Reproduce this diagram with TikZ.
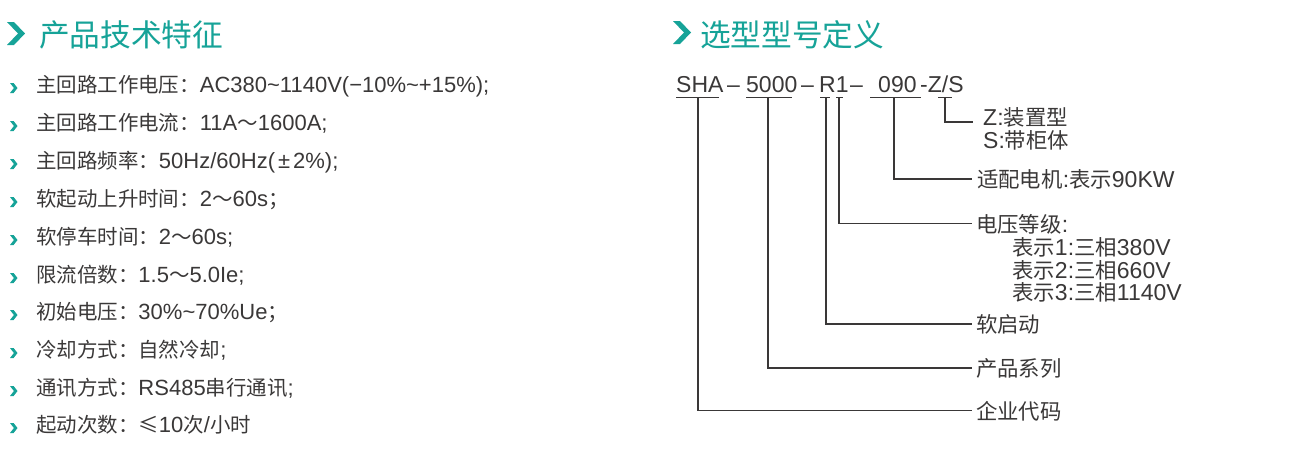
\documentclass[tikz,border=0pt]{standalone}
\usepackage{fontspec}
\setmainfont{Liberation Sans}
\newfontfamily\cjk[Scale=0.93]{Noto Sans CJK SC}
\definecolor{teal1}{RGB}{22,163,152}
\definecolor{txt}{RGB}{58,56,56}
\tikzset{
  hdr/.style={anchor=base west, inner sep=0pt, text=teal1, font=\cjk\fontsize{33}{37}\selectfont},
  item/.style={anchor=base west, inner sep=0pt, text=txt, font=\fontsize{22}{26}\selectfont},
  code/.style={anchor=base west, inner sep=0pt, text=txt, font=\fontsize{23}{27}\selectfont},
  lab/.style={anchor=base west, inner sep=0pt, text=txt, font=\fontsize{23}{27}\selectfont},
  wire/.style={draw=txt, line width=1.3pt},
  bigchev/.pic={\fill[teal1] (0,0) -- (7,0) -- (18,11.5) -- (7,23) -- (0,23) -- (11,11.5) -- cycle;},
  smallchev/.pic={\fill[teal1] (0,0) -- (3.6,0) -- (7.5,5) -- (3.6,10) -- (0,10) -- (3.9,5) -- cycle;},
}
\begin{document}
\begin{tikzpicture}[x=1pt,y=-1pt]
\useasboundingbox[fill=white] (0,0) rectangle (1300,453);

% ---------- left: headline ----------
\pic at (7,22) {bigchev};
\node[hdr] (h1) at (39,46) {产品技术特征};

% ---------- left: list ----------
\foreach \yy in {92,130,168,206,244,282,319,357,395,432}{
  \pic at (10,\yy-9) {smallchev};
}
\node[item] (r1) at (36,92) {{\cjk 主回路工作电压：}AC380\textasciitilde1140V(−10\%\textasciitilde+15\%);};
\node[item] (r2) at (36,130) {{\cjk 主回路工作电流：}11A{\cjk ～}1600A;};
\node[item] (r3) at (36,168) {{\cjk 主回路频率：}50Hz/60Hz(\hspace{3pt}±\hspace{3pt}2\%);};
\node[item] (r4) at (36,206) {{\cjk 软起动上升时间：}2{\cjk ～}60s{\cjk ；}};
\node[item] (r5) at (36,244) {{\cjk 软停车时间：}2{\cjk ～}60s;};
\node[item] (r6) at (36,282) {{\cjk 限流倍数：}1.5{\cjk ～}5.0Ie;};
\node[item] (r7) at (36,319) {{\cjk 初始电压：}30\%\textasciitilde70\%Ue{\cjk ；}};
\node[item] (r8) at (36,357) {{\cjk 冷却方式：自然冷却};};
\node[item] (r9) at (36,395) {{\cjk 通讯方式：}RS485{\cjk 串行通讯};};
\node[item] (r10) at (36,432) {{\cjk 起动次数：≤}10{\cjk 次}/{\cjk 小时}};

% ---------- right: headline ----------
\pic at (673,21) {bigchev};
\node[hdr] (h2) at (700,46) {选型型号定义};

% ---------- right: code ----------
\node[code] (c1) at (676,92.5) {SHA};
\node[code] (d1) at (727,92.5) {–};
\node[code] (c2) at (746,92.5) {5000};
\node[code] (d2) at (801,92.5) {–};
\node[code] (c3) at (819,92.5) {R1};
\node[code] (d3) at (850,92.5) {–};
\node[code] (c4) at (878,92.5) {090};
\node[code] (c5) at (920,92.5) {-Z/S};

% underlines
\draw[wire] (676,97.5) -- (719,97.5);
\draw[wire] (746,97.5) -- (792,97.5);
\draw[wire] (820,97.5) -- (830,97.5);
\draw[wire] (836,97.5) -- (843,97.5);
\draw[wire] (870,97.5) -- (921,97.5);
\draw[wire] (938,97.5) -- (952,97.5);
\coordinate (u1) at (698,97.5);
\coordinate (u2) at (768,97.5);
\coordinate (u3) at (826,97.5);
\coordinate (u4) at (839,97.5);
\coordinate (u5) at (894,97.5);
\coordinate (u6) at (945,97.5);

% labels
\node[lab] (lz) at (983,125) {Z:{\cjk 装置型}};
\node[lab] (ls) at (983,148) {S:{\cjk 带柜体}};
\node[lab] (lm) at (977,187) {{\cjk 适配电机}:{\cjk 表示}90KW};
\node[lab] (lv) at (976,232) {{\cjk 电压等级}:};
\node[lab] (lv1) at (1012,255) {{\cjk 表示}1:{\cjk 三相}380V};
\node[lab] (lv2) at (1012,278) {{\cjk 表示}2:{\cjk 三相}660V};
\node[lab] (lv3) at (1012,300) {{\cjk 表示}3:{\cjk 三相}1140V};
\node[lab] (lr) at (976,332) {{\cjk 软启动}};
\node[lab] (lp) at (976,376) {{\cjk 产品系列}};
\node[lab] (le) at (976,419) {{\cjk 企业代码}};

% connectors
\draw[wire] (u6) |- ([shift={(-10,5)}]lz.west);
\draw[wire] (u5) |- ([shift={(-5,0)}]lm.west);
\draw[wire] (u4) |- ([shift={(-4,0)}]lv.west);
\draw[wire] (u3) |- ([shift={(-4,0)}]lr.west);
\draw[wire] (u2) |- ([shift={(-4,0)}]lp.west);
\draw[wire] (u1) |- ([shift={(-4,0)}]le.west);
\end{tikzpicture}
\end{document}
